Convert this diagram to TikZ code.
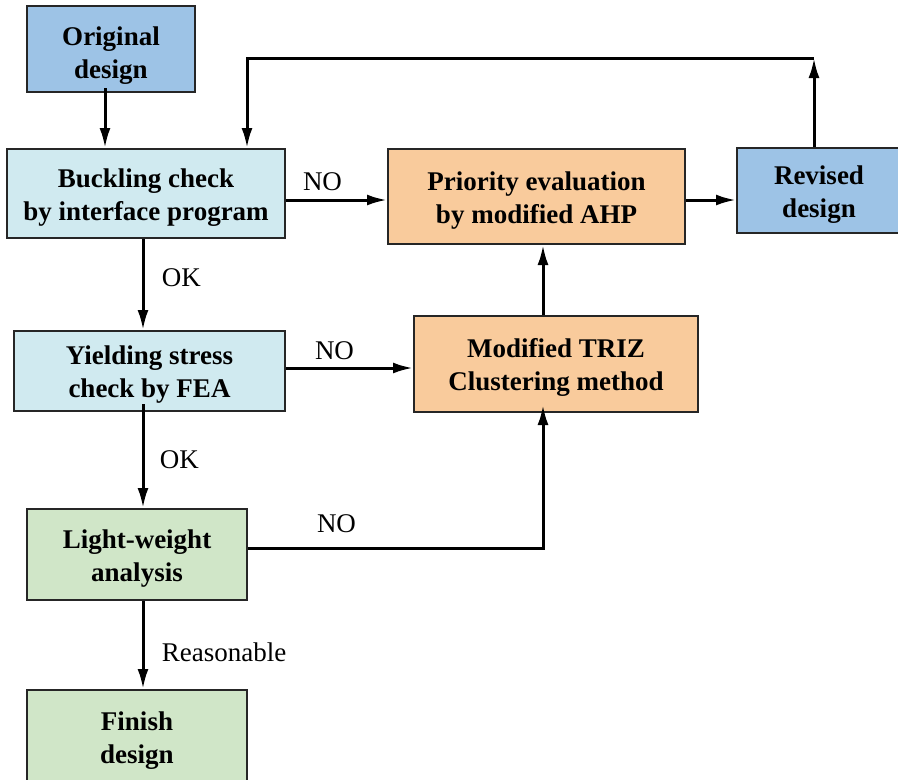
\documentclass[tikz,border=0pt]{standalone}
\usepackage{fontspec}
\setmainfont{Liberation Serif}
\usetikzlibrary{arrows.meta}

\definecolor{origblue}{HTML}{9DC3E6}
\definecolor{checkcyan}{HTML}{D0EAF0}
\definecolor{evalorange}{HTML}{F9CB9C}
\definecolor{lightgreen}{HTML}{D0E6C8}

% Two lines of box text, pushed slightly down
\newcommand{\boxtext}[3][26pt]{\rule{0pt}{#1}#2\\#3}

\begin{document}
\begin{tikzpicture}[x=1pt,y=-1pt,
    box/.style={draw=black!85, line width=2pt, align=center, inner sep=0pt,
        font=\fontsize{27}{33}\selectfont\bfseries},
    arr/.style={line width=3pt, -{Latex[length=20pt,width=11pt]}},
    lbl/.style={font=\fontsize{27}{30}\selectfont}]

    % Frame of the picture
    \useasboundingbox (0,0) rectangle (898,780);

    % Boxes
    \node[box, fill=origblue, minimum width=168, minimum height=86] (orig) at (111,49) {\boxtext[31pt]{Original}{design}};
    \node[box, fill=checkcyan, minimum width=278, minimum height=89] (buck) at (146,193.5) {\boxtext{Buckling check}{by interface program}};
    \node[box, fill=evalorange, minimum width=297, minimum height=95] (prio) at (536.5,196.5) {\boxtext{Priority evaluation}{by modified AHP}};
    \node[box, fill=origblue, minimum width=164, minimum height=85] (rev) at (819,190.5) {\boxtext{Revised}{design}};
    \node[box, fill=checkcyan, minimum width=271, minimum height=80] (yield) at (149.5,371) {\boxtext{Yielding stress}{check by FEA}};
    \node[box, fill=evalorange, minimum width=284, minimum height=96] (triz) at (556,364) {\boxtext{Modified TRIZ}{Clustering method}};
    \node[box, fill=lightgreen, minimum width=220, minimum height=91] (light) at (137,554.5) {\boxtext{Light-weight}{analysis}};
    \node[box, fill=lightgreen, minimum width=220, minimum height=94] (finish) at (137,737) {\boxtext{Finish}{design}};

    % Main column
    \draw[arr] ([yshift=5pt]orig.south -| 105,0) -- (buck.north -| 105,0);
    \draw[arr] (buck.south -| 143,0) -- (yield.north -| 143,0) node[lbl, midway, right=14pt, yshift=7pt] {OK};
    \draw[arr] ([yshift=8pt]yield.south -| 143,0) -- (light.north -| 143,0) node[lbl, midway, right=12pt, yshift=-4pt] {OK};
    \draw[arr] (light.south -| 143,0) -- (finish.north -| 143,0) node[lbl, midway, right=14pt, yshift=-7pt] {Reasonable};

    % Branches to the right
    \draw[arr] (buck.east |- 0,200) -- (prio.west |- 0,200) node[lbl, midway, above=4pt, xshift=-14pt] {NO};
    \draw[arr] (prio.east |- 0,200) -- (rev.west |- 0,200);
    \draw[arr] (yield.east |- 0,368) -- (triz.west |- 0,368) node[lbl, midway, above=3pt, xshift=-15pt] {NO};
    \draw[arr] (light.east |- 0,548) -- (543,548) node[lbl, pos=0.3, above=10pt] {NO} -- ([yshift=8pt]triz.south -| 543,0);
    \draw[arr] (triz.north -| 543,0) -- (prio.south -| 543,0);

    % Feedback loop
    \coordinate (loopR) at (814,58);
    \coordinate (loopL) at (247,58);
    \draw[arr] (rev.north -| loopR) -- (loopR);
    \draw[arr] (loopR) -- (loopL) -- (buck.north -| loopL);
\end{tikzpicture}
\end{document}
